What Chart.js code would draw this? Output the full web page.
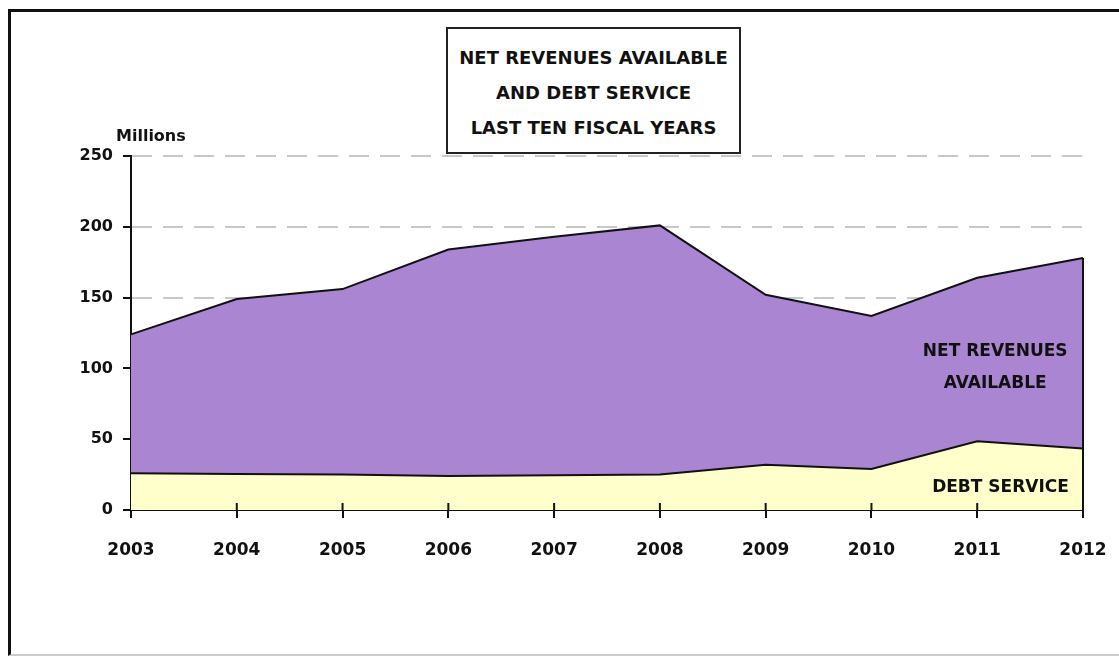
<!DOCTYPE html>
<html>
<head>
<meta charset="utf-8">
<script src="https://cdn.jsdelivr.net/npm/chart.js@4"></script>
<style>
  body { margin: 0; background: #fff; }
  #wrap { position: relative; width: 1119px; height: 656px; overflow: hidden; }
  #frame {
    position: absolute; left: 8px; top: 9px; width: 1108px; height: 642px;
    border-left: 3px solid #111; border-top: 3px solid #111;
    border-right: 1px solid #ddd; border-bottom: 2px solid #ccc;
    pointer-events: none;
  }
  #title {
    position: absolute; left: 446px; top: 27px; width: 295px; height: 127px;
    border: 2px solid #222; box-sizing: border-box; background: #fff;
    font: bold 18px "DejaVu Sans", sans-serif; color: #111;
    text-align: center; line-height: 35px; padding-top: 11px;
  }
</style>
</head>
<body>
<div id="wrap">
  <canvas id="chart" width="1119" height="656"></canvas>
  <div id="frame"></div>
  <div id="title">NET REVENUES AVAILABLE<br>AND DEBT SERVICE<br>LAST TEN FISCAL YEARS</div>
</div>
<script>
const years = ['2003', '2004', '2005', '2006', '2007', '2008', '2009', '2010', '2011', '2012'];
const netRevenues = [124, 149, 156, 184, 193, 201, 152, 137, 164, 178];
const debtService = [26, 25.5, 25, 24, 24.5, 25, 32, 29, 48.5, 43.5];
const yTicks = [0, 50, 100, 150, 200, 250];

const font = '"DejaVu Sans", sans-serif';

// inward tick marks, right edge of the area and the text labels
const extras = {
  id: 'extras',
  afterDatasetsDraw(chart) {
    const ctx = chart.ctx;
    const x = chart.scales.x;
    const y = chart.scales.y;
    ctx.save();
    ctx.strokeStyle = '#111';
    ctx.lineWidth = 2;
    for (let i = 1; i < years.length; i++) {
      const px = x.getPixelForValue(i);
      ctx.beginPath();
      ctx.moveTo(px, y.bottom);
      ctx.lineTo(px, y.bottom - 7);
      ctx.stroke();
    }
    const pts = chart.getDatasetMeta(1).data;
    const last = pts[pts.length - 1];
    ctx.beginPath();
    ctx.moveTo(last.x, last.y);
    ctx.lineTo(last.x, y.bottom);
    ctx.stroke();

    ctx.fillStyle = '#111';
    ctx.font = 'bold 17px ' + font;
    ctx.textAlign = 'center';
    ctx.textBaseline = 'middle';
    ctx.fillText('NET REVENUES', x.getPixelForValue(8.17), y.getPixelForValue(112));
    ctx.fillText('AVAILABLE', x.getPixelForValue(8.17), y.getPixelForValue(89));
    ctx.fillText('DEBT SERVICE', x.getPixelForValue(8.22), y.getPixelForValue(15.5));

    ctx.font = 'bold 16px ' + font;
    ctx.textAlign = 'left';
    ctx.fillText('Millions', chart.chartArea.left - 15, chart.chartArea.top - 19);
    ctx.restore();
  }
};

new Chart(document.getElementById('chart'), {
  type: 'line',
  data: {
    labels: years,
    datasets: [
      {
        label: 'DEBT SERVICE',
        data: debtService,
        backgroundColor: '#ffffcc',
        borderColor: '#111',
        borderWidth: 2,
        fill: 'origin',
        pointRadius: 0,
        tension: 0
      },
      {
        label: 'NET REVENUES AVAILABLE',
        data: netRevenues,
        backgroundColor: '#aa85d2',
        borderColor: '#111',
        borderWidth: 2,
        fill: 'origin',
        pointRadius: 0,
        tension: 0
      }
    ]
  },
  options: {
    responsive: false,
    animation: false,
    layout: { padding: { left: 0, right: 36, top: 156, bottom: 0 } },
    plugins: {
      legend: { display: false },
      tooltip: { enabled: false }
    },
    scales: {
      x: {
        offset: false,
        afterFit(scale) {
          scale.height = 146;
          scale.paddingLeft = 0;
          scale.paddingRight = 0;
        },
        grid: { drawOnChartArea: false, color: '#111', tickLength: 8, lineWidth: 2 },
        border: { color: '#111', width: 2 },
        ticks: { color: '#111', font: { family: font, size: 17, weight: 'bold' }, padding: 22, maxRotation: 0 }
      },
      y: {
        min: 0,
        max: 250,
        afterFit(scale) { scale.width = 131; },
        afterBuildTicks(scale) { scale.ticks = yTicks.map(v => ({ value: v })); },
        grid: {
          color: ctx => ctx.tick && ctx.tick.value === 0 ? 'rgba(0,0,0,0)' : '#c8c8c8',
          lineWidth: 2,
          tickColor: '#111',
          tickBorderDash: [],
          tickLength: 8
        },
        border: { color: '#111', width: 2, dash: [20, 11] },
        ticks: { color: '#111', font: { family: font, size: 16, weight: 'bold' }, padding: 10 }
      }
    }
  },
  plugins: [extras]
});
</script>
</body>
</html>
